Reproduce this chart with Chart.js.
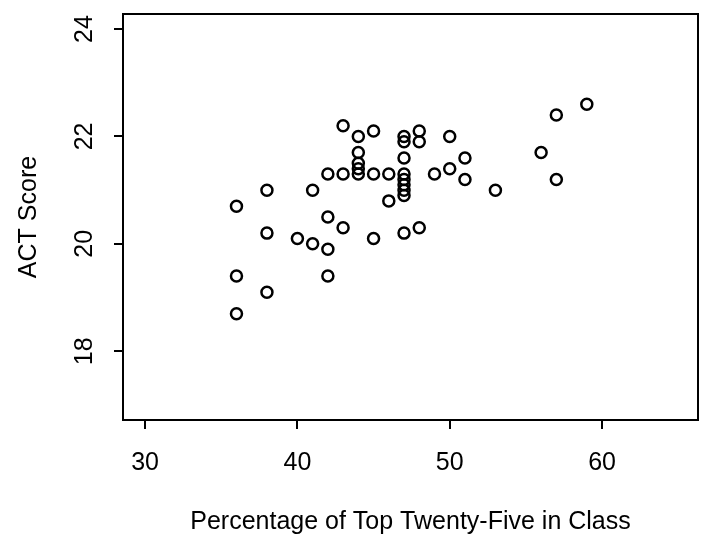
<!DOCTYPE html>
<html lang="en">
    <head>
        <meta charset="UTF-8">
        <title>ACT Score vs. Percentage of Top Twenty-Five</title>
        <script src="https://cdn.jsdelivr.net/npm/chart.js"></script>
        <style>
            html,
            body {
                margin: 0;
                padding: 0;
                background: #ffffff;
            }
            #wrap {
                width: 701px;
                height: 544px;
            }
        </style>
    </head>
    <body>
        <div id="wrap">
            <canvas id="scatter" width="701" height="544"></canvas>
        </div>

        <script>
            // percentage of class in the top 25, and the matching ACT score
            const topPct = [
                36, 36, 36,
                38, 38, 38,
                40,
                41, 41,
                42, 42, 42, 42,
                43, 43, 43,
                44, 44, 44, 44, 44,
                45, 45, 45,
                46, 46,
                47, 47, 47, 47, 47, 47, 47, 47, 47,
                48, 48, 48,
                49,
                50, 50,
                51, 51,
                53,
                56,
                57, 57,
                59
            ];
            const actScore = [
                20.7, 19.4, 18.7,
                21.0, 20.2, 19.1,
                20.1,
                21.0, 20.0,
                21.3, 20.5, 19.9, 19.4,
                22.2, 21.3, 20.3,
                22.0, 21.7, 21.5, 21.4, 21.3,
                22.1, 21.3, 20.1,
                21.3, 20.8,
                22.0, 21.9, 21.6, 21.3, 21.2, 21.1, 21.0, 20.9, 20.2,
                22.1, 21.9, 20.3,
                21.3,
                22.0, 21.4,
                21.6, 21.2,
                21.0,
                21.7,
                22.4, 21.2,
                22.6
            ];
            const xTicks = [30, 40, 50, 60];
            const yTicks = [18, 20, 22, 24];

            const points = topPct.map((x, i) => ({x: x, y: actScore[i]}));
            const fontFamily = "'Liberation Sans', Arial, sans-serif";

            // box around the plotting region
            const frame = {
                id: 'frame',
                afterDraw(chart) {
                    const a = chart.chartArea;
                    const ctx = chart.ctx;
                    ctx.save();
                    ctx.strokeStyle = '#000';
                    ctx.lineWidth = 2;
                    ctx.strokeRect(a.left, a.top, a.right - a.left, a.bottom - a.top);
                    ctx.restore();
                }
            };

            // no extra room for labels hanging past the ends of an axis
            function noOverhang(axis) {
                axis.paddingTop = 0;
                axis.paddingBottom = 0;
                axis.paddingLeft = 0;
                axis.paddingRight = 0;
            }

            new Chart(document.getElementById('scatter'), {
                type: 'scatter',
                data: {
                    datasets: [
                        {
                            data: points,
                            pointStyle: 'circle',
                            pointRadius: 5.5,
                            pointHoverRadius: 5.5,
                            pointBorderWidth: 2.5,
                            pointBorderColor: '#000',
                            pointBackgroundColor: 'rgba(0,0,0,0)'
                        }
                    ]
                },
                options: {
                    responsive: false,
                    animation: false,
                    events: [],
                    layout: {
                        autoPadding: false,
                        padding: {top: 14, right: 3, left: 0, bottom: 0}
                    },
                    plugins: {
                        legend: {display: false},
                        tooltip: {enabled: false}
                    },
                    scales: {
                        x: {
                            type: 'linear',
                            min: 28.55,
                            max: 66.3,
                            afterBuildTicks: axis => {
                                axis.ticks = xTicks.map(v => ({value: v}));
                            },
                            afterFit: axis => {
                                axis.height = 124;
                                noOverhang(axis);
                            },
                            border: {display: false},
                            grid: {
                                drawOnChartArea: false,
                                color: '#000',
                                lineWidth: 2,
                                tickLength: 9
                            },
                            ticks: {
                                color: '#000',
                                padding: 19,
                                maxRotation: 0,
                                font: {family: fontFamily, size: 25}
                            },
                            title: {
                                display: true,
                                text: 'Percentage of Top Twenty-Five in Class',
                                color: '#000',
                                padding: {top: 0, bottom: 7},
                                font: {family: fontFamily, size: 25}
                            }
                        },
                        y: {
                            type: 'linear',
                            min: 16.72,
                            max: 24.28,
                            afterBuildTicks: axis => {
                                axis.ticks = yTicks.map(v => ({value: v}));
                            },
                            afterFit: axis => {
                                axis.width = 123;
                                noOverhang(axis);
                            },
                            border: {display: false},
                            grid: {
                                drawOnChartArea: false,
                                color: '#000',
                                lineWidth: 2,
                                tickLength: 9
                            },
                            ticks: {
                                color: '#000',
                                padding: 15,
                                minRotation: 90,
                                maxRotation: 90,
                                crossAlign: 'center',
                                font: {family: fontFamily, size: 25}
                            },
                            title: {
                                display: true,
                                text: 'ACT Score',
                                color: '#000',
                                padding: {top: 14, bottom: 0},
                                font: {family: fontFamily, size: 25}
                            }
                        }
                    }
                },
                plugins: [frame]
            });
        </script>
    </body>
</html>
